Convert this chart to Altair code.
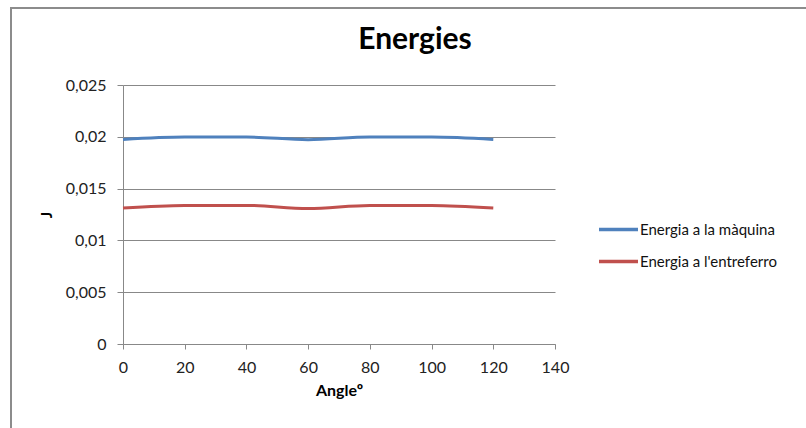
import altair as alt
import pandas as pd

# Energy stored vs rotor angle
angles = [0, 20, 40, 60, 80, 100, 120]
energia_maquina = [0.01975, 0.01998, 0.01998, 0.01972, 0.01998, 0.01998, 0.01975]
energia_entreferro = [0.01312, 0.01338, 0.01338, 0.01308, 0.01338, 0.01338, 0.01312]

series_names = ["Energia a la màquina", "Energia a l'entreferro"]
series_colors = ["#4F81BD", "#C0504D"]

x_ticks = [0, 20, 40, 60, 80, 100, 120, 140]
y_ticks = [0, 0.005, 0.01, 0.015, 0.02, 0.025]

rows = []
for a, v in zip(angles, energia_maquina):
    rows.append({"angle": a, "energy": v, "serie": series_names[0]})
for a, v in zip(angles, energia_entreferro):
    rows.append({"angle": a, "energy": v, "serie": series_names[1]})
df = pd.DataFrame(rows)

FONT = "Lato"
GRID = "#888888"

W, H = 432, 259
PAD_L, PAD_T = 123, 85

lines = alt.Chart(df).mark_line(strokeWidth=3, interpolate="monotone").encode(
    x=alt.X(
        "angle:Q",
        scale=alt.Scale(domain=[0, 140], nice=False),
        axis=alt.Axis(
            values=x_ticks,
            grid=False,
            title="Angleº",
            titleFont=FONT,
            titleFontSize=16,
            titleFontWeight="bold",
            titleColor="#000000",
            titleX=W / 2,
            titleY=46,
            titleBaseline="middle",
            labelFont=FONT,
            labelFontSize=16,
            labelColor="#222222",
            labelPadding=10,
            labelFlush=False,
            tickSize=5,
            tickColor=GRID,
            domainColor=GRID,
        ),
    ),
    y=alt.Y(
        "energy:Q",
        scale=alt.Scale(domain=[0, 0.025], nice=False),
        axis=alt.Axis(
            values=y_ticks,
            labelExpr="replace(format(datum.value, '~g'), '.', ',')",
            grid=True,
            gridColor=GRID,
            title="J",
            titleFont=FONT,
            titleFontSize=15,
            titleFontWeight="bold",
            titleColor="#000000",
            titleX=-77,
            titleY=H / 2,
            titleAngle=270,
            titleBaseline="middle",
            titleAlign="center",
            labelFont=FONT,
            labelFontSize=16,
            labelColor="#222222",
            labelPadding=11,
            labelFlush=False,
            tickSize=6,
            tickColor=GRID,
            domainColor=GRID,
        ),
    ),
    color=alt.Color(
        "serie:N",
        scale=alt.Scale(domain=series_names, range=series_colors),
        legend=alt.Legend(
            title=None,
            orient="none",
            legendX=474,
            legendY=123,
            symbolType="stroke",
            symbolSize=1521,
            symbolStrokeWidth=3.5,
            labelFont=FONT,
            labelFontSize=15,
            labelColor="#111111",
            labelOffset=0,
            rowPadding=2,
        ),
    ),
)

# Outer frame of the chart area
frame = alt.Chart(pd.DataFrame({"k": [0]})).mark_rect(
    filled=False, stroke="#8c8c8c", strokeWidth=2
).encode(
    x=alt.value(11 - PAD_L),
    x2=alt.value(806 - PAD_L + 10),
    y=alt.value(8 - PAD_T),
    y2=alt.value(428 - PAD_T + 10),
)

chart = (
    alt.layer(frame, lines)
    .properties(
        width=W,
        height=H,
        padding={"left": PAD_L, "top": PAD_T, "right": 806 - PAD_L - W, "bottom": 428 - PAD_T - H},
        autosize=alt.AutoSizeParams(type="none"),
        background="white",
        title=alt.TitleParams(
            "Energies",
            font=FONT,
            fontSize=30,
            fontWeight="bold",
            color="#000000",
            anchor="middle",
            dx=76,
            baseline="alphabetic",
            offset=0,
            dy=72,
        ),
    )
    .configure_view(stroke=None)
)

chart.save("out.html", embed_options={"renderer": "svg", "actions": False})
